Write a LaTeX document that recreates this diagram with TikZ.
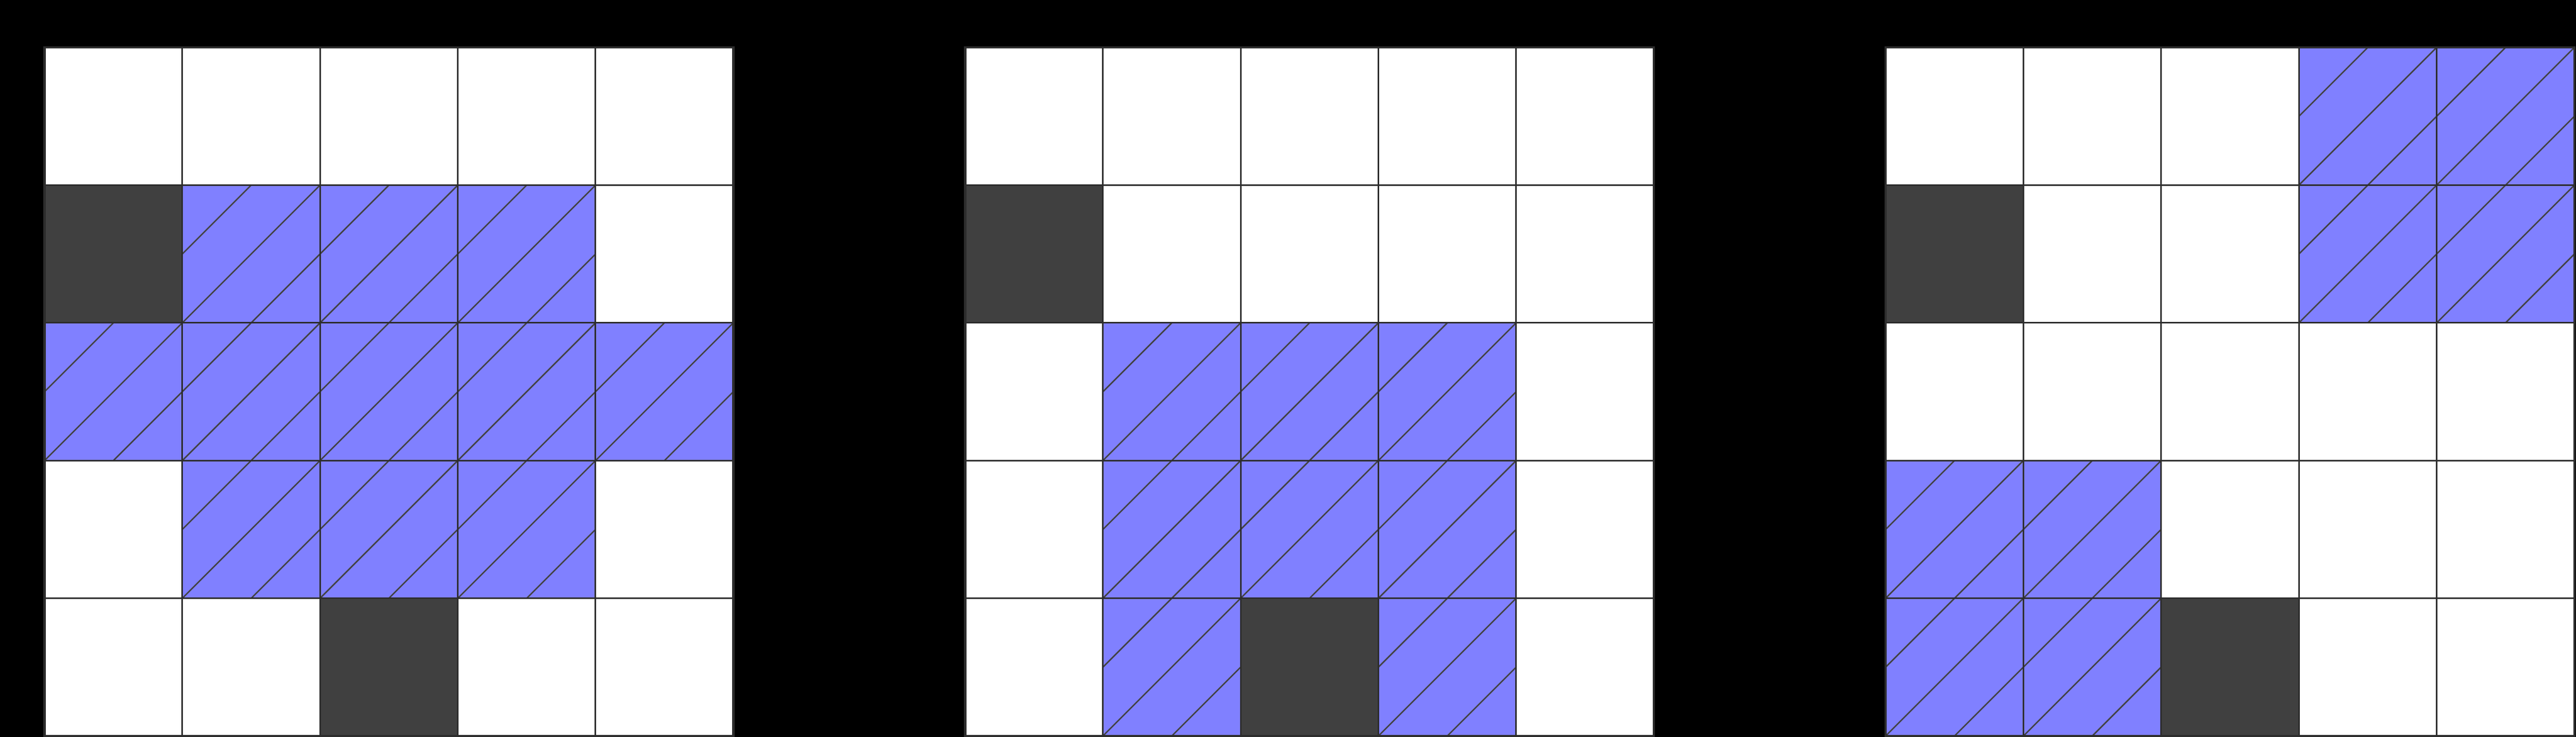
\documentclass[tikz,border=0pt]{standalone}
\usepackage{tikz}
\definecolor{cellblue}{HTML}{8080FF}
\definecolor{celldark}{HTML}{404040}
\definecolor{linegray}{HTML}{2D2D2D}
\tikzset{
  gridlines/.style={draw=linegray,line width=0.32pt},
  gridframe/.style={draw=linegray,line width=0.48pt},
  hatchline/.style={draw=linegray!90!white,line width=0.29pt},
  bluefill/.style={fill=cellblue},
  darkfill/.style={fill=celldark}
}
% cell in column #1, row #2 (rows counted from the top)
\newcommand{\hatchcell}[2]{
  \begin{scope}[shift={(#1-1,5-#2)}]
    \fill[bluefill] (0,0) rectangle (1,1);
    \draw[hatchline] (0.5,0) -- (1,0.5) (0,0) -- (1,1) (0,0.5) -- (0.5,1);
  \end{scope}
}
\newcommand{\darkcell}[2]{
  \fill[darkfill] (#1-1,5-#2) rectangle ++(1,1);
}
\newcommand{\gridbox}{
  \draw[gridlines] (0,0) grid (5,5);
  \draw[gridframe] (0,0) rectangle (5,5);
}

\begin{document}
\begin{tikzpicture}
    \fill[black] (-0.323,-0.006) rectangle (18.377,5.345);
    \useasboundingbox (-0.323,-0.006) rectangle (18.377,5.345);
    % first board
    \begin{scope}
        \fill[white] (0,0) rectangle (5,5);
        \foreach \c/\r in {2/2,3/2,4/2,1/3,2/3,3/3,4/3,5/3,2/4,3/4,4/4} {
            \hatchcell{\c}{\r}
        }
        \foreach \c/\r in {1/2,3/5} {
            \darkcell{\c}{\r}
        }
        \gridbox
    \end{scope}
    % second board
    \begin{scope}[xshift=6.683cm]
        \fill[white] (0,0) rectangle (5,5);
        \foreach \c/\r in {2/3,3/3,4/3,2/4,3/4,4/4,2/5,4/5} {
            \hatchcell{\c}{\r}
        }
        \foreach \c/\r in {1/2,3/5} {
            \darkcell{\c}{\r}
        }
        \gridbox
    \end{scope}
    % third board
    \begin{scope}[xshift=13.365cm]
        \fill[white] (0,0) rectangle (5,5);
        \foreach \c/\r in {4/1,5/1,4/2,5/2,1/4,2/4,1/5,2/5} {
            \hatchcell{\c}{\r}
        }
        \foreach \c/\r in {1/2,3/5} {
            \darkcell{\c}{\r}
        }
        \gridbox
    \end{scope}
\end{tikzpicture}
\end{document}
